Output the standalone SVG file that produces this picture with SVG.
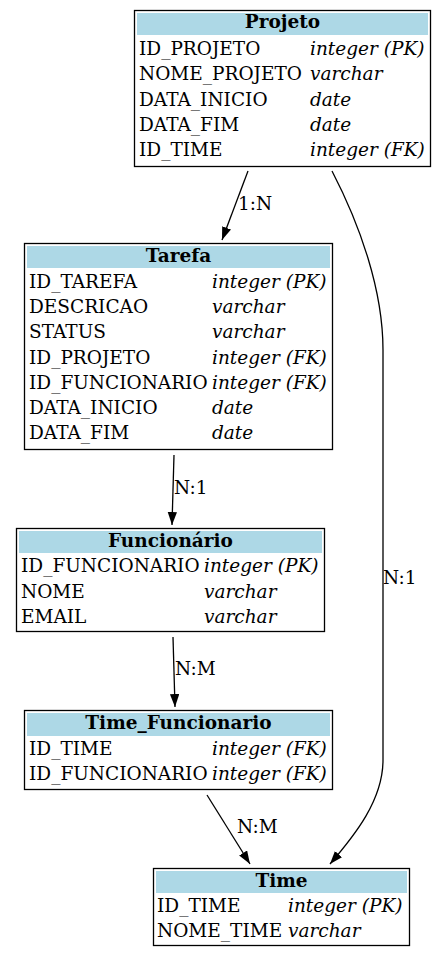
<svg xmlns="http://www.w3.org/2000/svg" width="445" height="957" viewBox="0 0 445 957">
<style>
.box{fill:#fff;stroke:#000;stroke-width:1.3}
.hdr{fill:#add8e6}
.t{font-family:"DejaVu Serif",serif;font-size:18.5px;fill:#000}
.b{font-weight:bold;text-anchor:middle}
.i{font-style:italic}
.e{fill:none;stroke:#000;stroke-width:1.3}
</style>
<defs>
<marker id="ah" markerUnits="userSpaceOnUse" markerWidth="14" markerHeight="10" refX="13" refY="4.7" orient="auto">
<path d="M0,0 L13,4.7 L0,9.4 z" fill="#000"/>
</marker>
</defs>
<rect width="445" height="957" fill="#fff"/>
<g id="edges">
<path class="e" d="M248,171 L222,240" marker-end="url(#ah)"/>
<text class="t" x="238" y="210">1:N</text>
<path class="e" d="M174,455 L172,525" marker-end="url(#ah)"/>
<text class="t" x="174" y="494">N:1</text>
<path class="e" d="M173,637 L175,707" marker-end="url(#ah)"/>
<text class="t" x="175" y="675">N:M</text>
<path class="e" d="M207,795 L250,864" marker-end="url(#ah)"/>
<text class="t" x="237" y="833">N:M</text>
<path class="e" d="M332,171 C360,225 383,290 383,350 L383,760 C383,800 355,835 330,864" marker-end="url(#ah)"/>
<text class="t" x="383" y="584">N:1</text>
</g>
<g id="projeto">
<rect class="box" x="134.5" y="10.5" width="296" height="156"/>
<rect class="hdr" x="137" y="13" width="291" height="22"/>
<text class="t b" x="282.5" y="28">Projeto</text>
<text class="t" x="139" y="54.5">ID_PROJETO</text><text class="t i" x="310" y="54.5">integer (PK)</text>
<text class="t" x="139" y="80">NOME_PROJETO</text><text class="t i" x="310" y="80">varchar</text>
<text class="t" x="139" y="105.5">DATA_INICIO</text><text class="t i" x="310" y="105.5">date</text>
<text class="t" x="139" y="131">DATA_FIM</text><text class="t i" x="310" y="131">date</text>
<text class="t" x="139" y="156">ID_TIME</text><text class="t i" x="310" y="156">integer (FK)</text>
</g>
<g id="tarefa">
<rect class="box" x="24.5" y="243.5" width="308" height="206"/>
<rect class="hdr" x="27" y="246" width="303" height="22"/>
<text class="t b" x="178.5" y="262">Tarefa</text>
<text class="t" x="29" y="287.5">ID_TAREFA</text><text class="t i" x="212" y="287.5">integer (PK)</text>
<text class="t" x="29" y="313">DESCRICAO</text><text class="t i" x="212" y="313">varchar</text>
<text class="t" x="29" y="338">STATUS</text><text class="t i" x="212" y="338">varchar</text>
<text class="t" x="29" y="363.5">ID_PROJETO</text><text class="t i" x="212" y="363.5">integer (FK)</text>
<text class="t" x="29" y="388.5">ID_FUNCIONARIO</text><text class="t i" x="212" y="388.5">integer (FK)</text>
<text class="t" x="29" y="414">DATA_INICIO</text><text class="t i" x="212" y="414">date</text>
<text class="t" x="29" y="439">DATA_FIM</text><text class="t i" x="212" y="439">date</text>
</g>
<g id="funcionario">
<rect class="box" x="16.5" y="528.5" width="308" height="103"/>
<rect class="hdr" x="19" y="531" width="303" height="22"/>
<text class="t b" x="170.5" y="547">Funcionário</text>
<text class="t" x="21" y="572">ID_FUNCIONARIO</text><text class="t i" x="204" y="572">integer (PK)</text>
<text class="t" x="21" y="597.5">NOME</text><text class="t i" x="204" y="597.5">varchar</text>
<text class="t" x="21" y="623">EMAIL</text><text class="t i" x="204" y="623">varchar</text>
</g>
<g id="time_funcionario">
<rect class="box" x="24.5" y="710.5" width="308" height="79"/>
<rect class="hdr" x="27" y="713" width="303" height="23"/>
<text class="t b" x="178.5" y="729">Time_Funcionario</text>
<text class="t" x="29" y="754.5">ID_TIME</text><text class="t i" x="212" y="754.5">integer (FK)</text>
<text class="t" x="29" y="780">ID_FUNCIONARIO</text><text class="t i" x="212" y="780">integer (FK)</text>
</g>
<g id="time">
<rect class="box" x="153.5" y="868.5" width="256" height="77"/>
<rect class="hdr" x="156" y="871" width="251" height="22"/>
<text class="t b" x="281.5" y="887">Time</text>
<text class="t" x="157" y="912">ID_TIME</text><text class="t i" x="288" y="912">integer (PK)</text>
<text class="t" x="157" y="937">NOME_TIME</text><text class="t i" x="288" y="937">varchar</text>
</g>
</svg>
